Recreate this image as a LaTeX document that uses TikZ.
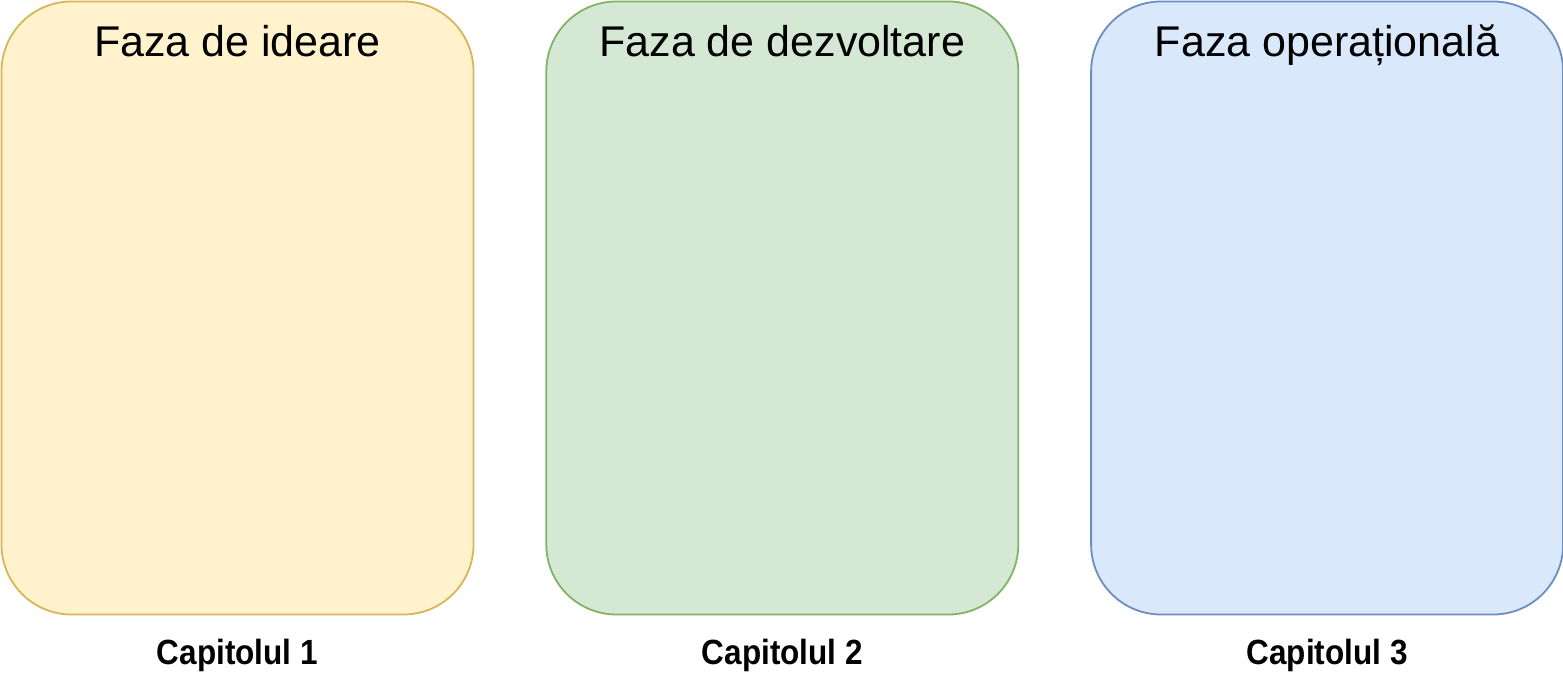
\documentclass[tikz,border=0pt]{standalone}
\usepackage{fontspec}
\setmainfont{Liberation Sans}
\newfontfamily\capfont[FakeStretch=0.9]{Liberation Sans}
\usepackage{xcolor}
\usepackage{tikz}
\usetikzlibrary{positioning}

\definecolor{ideeFill}{HTML}{FFF2CC}
\definecolor{ideeDraw}{HTML}{D6B656}
\definecolor{dezvFill}{HTML}{D5E8D4}
\definecolor{dezvDraw}{HTML}{82B366}
\definecolor{operFill}{HTML}{DAE8FC}
\definecolor{operDraw}{HTML}{6C8EBF}

\begin{document}
\begin{tikzpicture}[
    phase/.style={shape=rectangle, rounded corners=70pt, line width=1.8pt,
      minimum width=472pt, minimum height=613pt, inner sep=0pt},
    title/.style={anchor=base, font=\fontsize{43}{49}\selectfont},
    chapter/.style={anchor=base, font=\capfont\bfseries\fontsize{35}{41}\selectfont}]
    \useasboundingbox (0,0) rectangle (1563pt,-688pt);

    \node[phase, fill=ideeFill, draw=ideeDraw] (ideare) at (237.5pt,-308pt) {};
    \node[phase, fill=dezvFill, draw=dezvDraw, right=71pt of ideare] (dezvoltare) {};
    \node[phase, fill=operFill, draw=operDraw, right=71pt of dezvoltare] (operare) {};

    \node[title] (tIdeare) at ([yshift=-56pt]ideare.north) {Faza de ideare};
    \node[title] (tDezvoltare) at ([yshift=-56pt]dezvoltare.north) {Faza de dezvoltare};
    \node[title] (tOperare) at ([yshift=-56pt]operare.north) {Faza operațională};

    \node[chapter] (cap1) at ([yshift=-49pt]ideare.south) {Capitolul 1};
    \node[chapter] (cap2) at ([yshift=-49pt]dezvoltare.south) {Capitolul 2};
    \node[chapter] (cap3) at ([yshift=-49pt]operare.south) {Capitolul 3};
\end{tikzpicture}
\end{document}
